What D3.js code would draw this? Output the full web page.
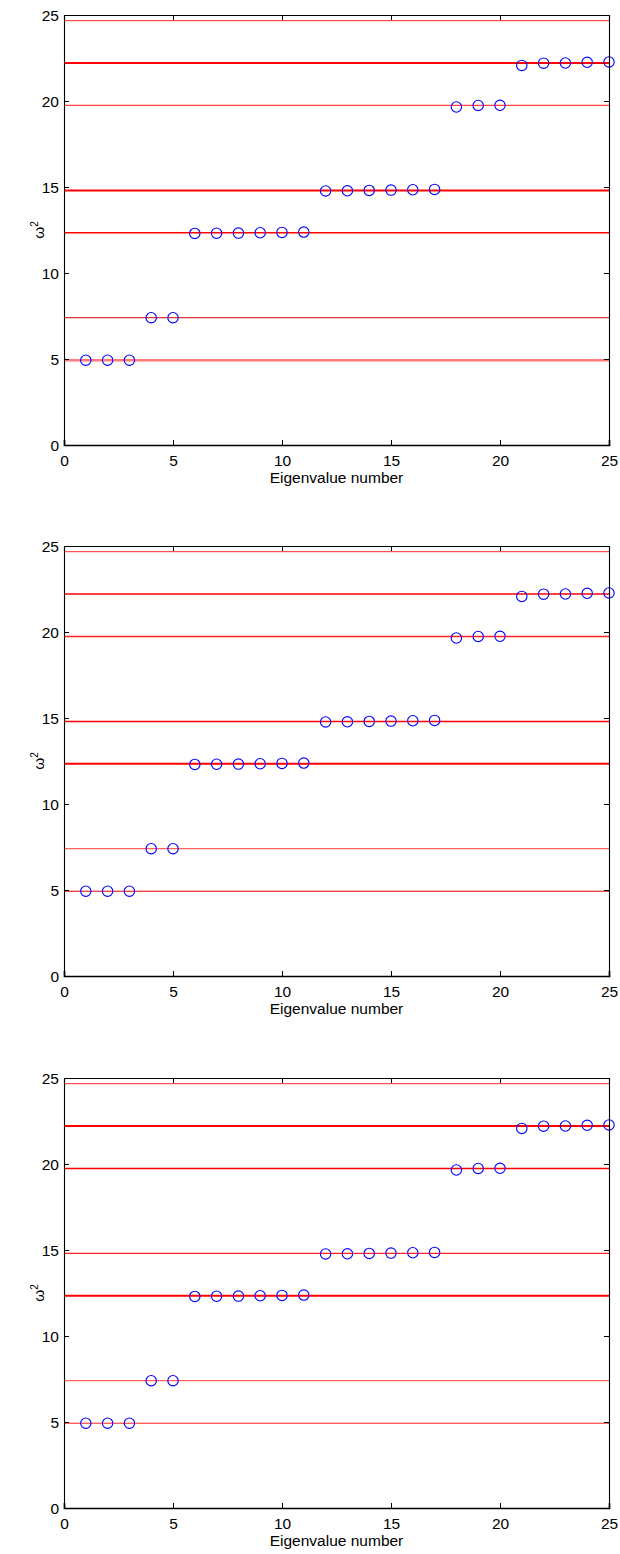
<!DOCTYPE html>
<html><head><meta charset="utf-8">
<script src="https://cdn.jsdelivr.net/npm/d3@7"></script>
<style>body{margin:0;background:#fff}svg{display:block}</style>
</head><body>
<script>
const eigIndex = d3.range(1, 26);
const eigValues = [4.93,4.93,4.93,7.40,7.40,12.30,12.31,12.32,12.34,12.36,12.38,14.77,14.78,14.80,14.82,14.84,14.86,19.65,19.74,19.75,22.07,22.20,22.21,22.25,22.27];
const exactLevels = [4.93,7.40,12.34,14.80,19.74,22.21,24.67];
const xTicks = [0,5,10,15,20,25];
const yTicks = [0,5,10,15,20,25];
// per-panel line styles for each exact level: [colour, width]
const panelLineStyles = [
  [["#ff7a7a",2.5],["#d40000",1],["#ff0000",1.6],["#ff0000",2],["#ff4040",1.3],["#ff0000",2.2],["#ff2020",1]],
  [["#e00000",1],["#ff6060",1.2],["#ff0000",2],["#ff0000",1.6],["#ff2020",1.6],["#ff0000",1.6],["#ff5050",1.2]],
  [["#ff2020",1],["#ff6060",1.2],["#ff0000",2],["#ff2020",1.2],["#ff0000",1.6],["#ff0000",2],["#ff5050",1.2]]
];
const panelTops = [15, 546, 1078];

const W = 620, H = 1554;
const left = 64, right = 609, ph = 430;
const FONT = "'Liberation Sans', Arial, Helvetica, sans-serif";
const svg = d3.select("body").append("svg").attr("width", W).attr("height", H)
  .style("font-family", FONT);

panelTops.forEach((top, pi) => {
  const x = d3.scaleLinear().domain([0,25]).range([left, right]);
  const y = d3.scaleLinear().domain([0,25]).range([top + ph, top]);
  const g = svg.append("g");

  g.selectAll("line.ref").data(exactLevels).join("line")
    .attr("x1", left).attr("x2", right)
    .attr("y1", d => y(d)).attr("y2", d => y(d))
    .attr("stroke", (d,i) => panelLineStyles[pi][i][0])
    .attr("stroke-width", (d,i) => panelLineStyles[pi][i][1]);

  g.selectAll("circle").data(eigIndex).join("circle")
    .attr("cx", d => x(d)).attr("cy", (d,i) => y(eigValues[i]))
    .attr("r", 5.2).attr("fill", "none").attr("stroke", "#0000ff").attr("stroke-width", 1.1);

  const xb = g.append("g").attr("transform", `translate(0,${top+ph})`)
    .call(d3.axisBottom(x).tickValues(xTicks).tickSize(-5).tickFormat(d3.format("d")));
  const xt = g.append("g").attr("transform", `translate(0,${top})`)
    .call(d3.axisTop(x).tickValues(xTicks).tickSize(-5).tickFormat(""));
  const yl = g.append("g").attr("transform", `translate(${left},0)`)
    .call(d3.axisLeft(y).tickValues(yTicks).tickSize(-5).tickFormat(d3.format("d")));
  const yr = g.append("g").attr("transform", `translate(${right},0)`)
    .call(d3.axisRight(y).tickValues(yTicks).tickSize(-5).tickFormat(""));
  [xb, xt, yl, yr].forEach(a => {
    a.select(".domain").attr("stroke", "#000").attr("stroke-width", 1.1);
    a.selectAll(".tick line").attr("stroke", "#000");
    a.selectAll("text").attr("font-size", 15.5).attr("fill", "#000")
      .attr("font-family", FONT);
  });
  xb.select(".domain").attr("stroke-width", 1.7);
  xb.selectAll(".tick text").attr("dy", "0.71em").attr("y", 10);
  yl.selectAll(".tick text").attr("x", -5).attr("dy", "0.35em");

  g.append("text").attr("x", (left + right) / 2).attr("y", top + ph + 38)
    .attr("text-anchor", "middle").attr("font-size", 15.5).attr("fill", "#000")
    .text("Eigenvalue number");

  const yLab = g.append("text")
    .attr("transform", `translate(${44},${top + ph/2}) rotate(-90)`)
    .attr("text-anchor", "middle").attr("font-size", 15.5).attr("fill", "#000");
  yLab.append("tspan").text("ω");
  yLab.append("tspan").attr("font-size", 10).attr("dy", -6).text("2");
});
</script>
</body></html>
